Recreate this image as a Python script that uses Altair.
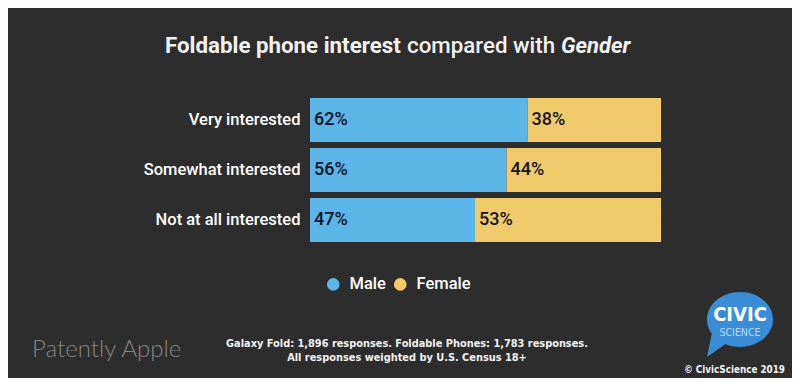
import altair as alt
import pandas as pd

categories = ["Very interested", "Somewhat interested", "Not at all interested"]
male = [62, 56, 47]
female = [38, 44, 53]
genders = ["Male", "Female"]
gender_colors = ["#5bb5e6", "#f0ca6b"]

rows = []
for c, m, f in zip(categories, male, female):
    rows.append({"category": c, "gender": "Male", "value": m, "order": 0, "label": f"{m}%"})
    rows.append({"category": c, "gender": "Female", "value": f, "order": 1, "label": f"{f}%"})
df = pd.DataFrame(rows)
one = pd.DataFrame([{"k": 1}])

BG = "#2d2d2d"
COND = "Liberation Sans Narrow, DejaVu Sans Condensed, Roboto"

base = alt.Chart(df).transform_stack(
    stack="value", groupby=["category"], as_=["x0", "x1"], sort=[alt.SortField("order")]
)

yenc = alt.Y("category:N", sort=categories, title=None,
             scale=alt.Scale(paddingInner=0.12, paddingOuter=0.06),
             axis=alt.Axis(labelColor="white", labelFontSize=16.5, labelFont="Roboto",
                           labelFontWeight=500, ticks=False, domain=False, labelPadding=10,
                           labelLimit=300))
xscale = alt.Scale(domain=[0, 100], nice=False, zero=True)

bars = base.mark_bar().encode(
    y=yenc,
    x=alt.X("x0:Q", scale=xscale, axis=None),
    x2="x1:Q",
    color=alt.Color("gender:N", scale=alt.Scale(domain=genders, range=gender_colors),
                    legend=alt.Legend(orient="none", legendX=15, legendY=181, direction="horizontal",
                                      title=None, symbolType="circle", symbolSize=160,
                                      symbolStrokeWidth=0, labelColor="white", labelFontSize=16.5,
                                      labelFont="Roboto", labelFontWeight=500, labelOffset=8,
                                      columnPadding=6)),
)

labels = base.mark_text(align="left", baseline="middle", dx=4, font="Roboto", fontSize=18,
                        fontWeight=500, color="#141426").encode(
    y=alt.Y("category:N", sort=categories),
    x=alt.X("x0:Q", scale=xscale),
    text="label:N",
)

def txt(text, x, y, **kw):
    return alt.Chart(one).mark_text(text=text, **kw).encode(x=alt.value(x), y=alt.value(y))

title1 = txt("Foldable phone interest", -145, -42, align="left", baseline="alphabetic",
             font="Roboto", fontSize=22.3, fontWeight="bold", color="#f2f2f2")
title2 = txt("compared with", 97, -42, align="left", baseline="alphabetic",
             font="Roboto", fontSize=22.3, fontWeight=500, color="#f2f2f2")
title3 = txt("Gender", 251, -42, align="left", baseline="alphabetic",
             font="Roboto", fontSize=22, fontWeight="bold", fontStyle="italic", color="#f2f2f2")

foot1 = txt("Galaxy Fold: 1,896 responses. Foldable Phones: 1,783 responses.", 97, 249,
            align="center", baseline="middle", font=COND, fontSize=10.9, fontWeight="bold", color="#f2f2f2")
foot2 = txt("All responses weighted by U.S. Census 18+", 97, 263,
            align="center", baseline="middle", font=COND, fontSize=10.9, fontWeight="bold", color="#f2f2f2")
patently = txt("Patently Apple", -278, 255, align="left", baseline="middle",
               font="Lato", fontSize=24, fontWeight=300, color="#858585")
copy = txt("© CivicScience 2019", 475, 275, align="right", baseline="middle",
           font=COND, fontSize=9.8, fontWeight="bold", color="#f2f2f2")

bubble_path = ("M -1 0 C -1 -0.458 -0.552 -0.83 0 -0.83 C 0.552 -0.83 1 -0.458 1 0 "
               "C 1 0.458 0.552 0.83 0 0.83 C -0.552 0.83 -1 0.458 -1 0 Z "
               "M -0.85 0.4 L -0.45 0.75 L -1.0 1.14 Z")
bubble = alt.Chart(one).mark_point(shape=bubble_path, filled=True, fill="#3a8dd4", opacity=1,
                                   strokeWidth=0, size=66 * 66).encode(
    x=alt.value(430), y=alt.value(224.5))
civic = txt("CIVIC", 430, 220, align="center", baseline="middle", font=COND, fontSize=20,
            fontWeight="bold", color="white")
science = txt("SCIENCE", 430, 238, align="center", baseline="middle", font=COND, fontSize=10.5,
              color="#b5dbf7")

chart = alt.layer(bars, labels, title1, title2, title3, foot1, foot2, patently, bubble, civic,
                  science, copy).properties(
    width=351, height=150,
    autosize=alt.AutoSizeParams(type="none"),
    padding={"left": 302, "top": 87, "right": 131, "bottom": 133},
    background=BG,
).configure_view(stroke=None)

chart.save("out.html", embed_options={"renderer": "svg", "actions": False})
